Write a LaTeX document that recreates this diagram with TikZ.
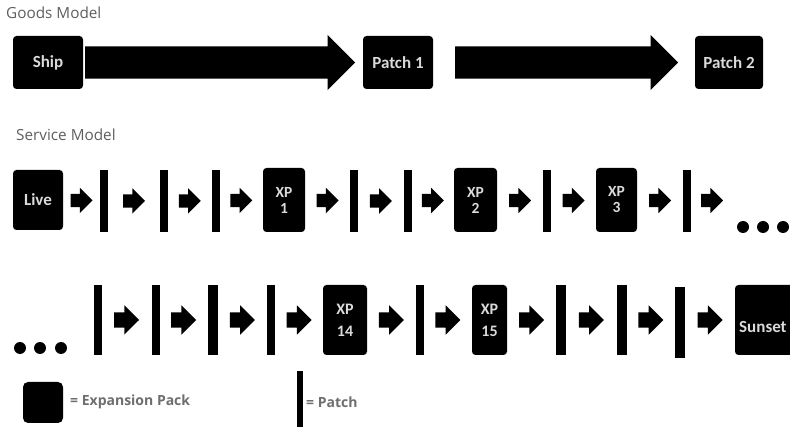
\documentclass[tikz,border=0pt]{standalone}
\usepackage{fontspec}
\setmainfont{Open Sans}
\newfontfamily\boxfont{Carlito}
\usetikzlibrary{shapes.arrows,calc}

\definecolor{boxtext}{HTML}{DADADA}
\definecolor{titlegray}{HTML}{5E5E5E}
\definecolor{legendgray}{HTML}{6E6E6E}

\begin{document}
\begin{tikzpicture}[x=1pt,y=-1pt,
  blk/.style={fill=black, rounded corners=3.5pt, inner sep=0pt, text=boxtext,
    font=\boxfont\bfseries\fontsize{17}{19}\selectfont, align=center},
  xpbox/.style={blk, minimum height=64pt, font=\boxfont\bfseries\fontsize{15.5}{16}\selectfont},
  xpboxtall/.style={blk, minimum height=70pt, font=\boxfont\bfseries\fontsize{16}{22}\selectfont},
  bar/.style={fill=black, inner sep=0pt, minimum width=8pt},
  bigarrow/.style={single arrow, fill=black, inner xsep=0pt, inner ysep=16pt,
    single arrow head extend=11.5pt, outer sep=0pt, anchor=tail},
  smallarrow/.style={single arrow, fill=black, inner xsep=0pt, inner ysep=6.5pt,
    single arrow head extend=6pt, minimum height=22pt, outer sep=0pt,
    anchor=tail, xshift=-11pt},
  midarrow/.style={single arrow, fill=black, inner xsep=0pt, inner ysep=7.5pt,
    single arrow head extend=7pt, minimum height=25pt, outer sep=0pt,
    anchor=tail, xshift=-12.5pt},
  dot/.style={circle, fill=black, inner sep=0pt, minimum size=12pt},
  title/.style={anchor=west, inner sep=0pt, text=titlegray, font=\fontsize{15.3}{17}\selectfont},
  legend/.style={anchor=west, inner sep=0pt, text=legendgray, font=\bfseries\fontsize{14}{16}\selectfont}
]
\useasboundingbox (0,0) rectangle (790,427);
\clip (0,0) rectangle (790,427);

% ---------- Goods model ----------
\node[title] (goods) at (6,13) {Goods Model};
\node[blk, minimum width=70pt, minimum height=53pt] (ship) at (48,62.5) {Ship};
\node[blk, minimum width=70pt, minimum height=53pt] (patch1) at (398,62.5) {Patch 1};
\node[blk, minimum width=68pt, minimum height=53pt] (patch2) at (729,62.5) {Patch 2};
\node[bigarrow, minimum height=270pt, xshift=2pt] (g1) at (ship.east) {};
\node[bigarrow, minimum height=223pt, xshift=22pt] (g2) at (patch1.east) {};

% ---------- Service model, first row ----------
\node[title] (service) at (16,135) {Service Model};
\node[blk, minimum width=50pt, minimum height=60pt] (live) at (38,200) {Live};
\node[bar, minimum height=62pt] (p1) at (104,201) {};
\node[bar, minimum height=62pt] (p2) at (164,201) {};
\node[bar, minimum height=62pt] (p3) at (215.5,201) {};
\node[xpbox, minimum width=42pt] (xp1) at (284,200) {XP\\1};
\node[bar, minimum height=62pt] (p4) at (354,201) {};
\node[bar, minimum height=62pt] (p5) at (407.5,201) {};
\node[xpbox, minimum width=43pt] (xp2) at (475.5,200) {XP\\2};
\node[bar, minimum height=62pt] (p6) at (547,201) {};
\node[xpbox, minimum width=41pt] (xp3) at (616.5,200) {XP\\3};
\node[bar, minimum height=62pt] (p7) at (687,201) {};
\coordinate (more1) at (733,200);
\node[dot] (d1) at (743,227) {};
\node[dot] (d2) at (763,227) {};
\node[dot] (d3) at (783,227) {};

\foreach \a/\b in {live/p1, p1/p2, p2/p3, p3/xp1, xp1/p4, p4/p5, p5/xp2, xp2/p6, p6/xp3, xp3/p7}
  \node[smallarrow] at ($(\a.east)!0.5!(\b.west)$) {};
\node[smallarrow] at ($(p7.east)!0.5!(more1)$) {};

% ---------- Service model, second row ----------
\node[dot] (d4) at (20,348) {};
\node[dot] (d5) at (40,348) {};
\node[dot] (d6) at (61,348) {};
\node[bar, minimum height=70pt] (q1) at (97.5,320) {};
\node[bar, minimum height=70pt] (q2) at (155.5,320) {};
\node[bar, minimum height=70pt, minimum width=10pt] (q3) at (212.5,320) {};
\node[bar, minimum height=70pt] (q4) at (271,320) {};
\node[xpboxtall, minimum width=44pt] (xp14) at (345,320) {XP\\14};
\node[bar, minimum height=70pt] (q5) at (419.5,320) {};
\node[xpboxtall, minimum width=35pt] (xp15) at (489.5,320) {XP\\15};
\node[bar, minimum height=70pt, minimum width=10pt] (q6) at (561,320) {};
\node[bar, minimum height=70pt, minimum width=10pt] (q7) at (621.5,320) {};
\node[bar, minimum height=71pt, minimum width=10pt] (q8) at (680,322.5) {};
\node[blk, minimum width=65pt, minimum height=70pt] (sunset) at (767.5,320) {};
\node[anchor=west, inner sep=0pt, text=boxtext,
  font=\boxfont\bfseries\fontsize{17}{19}\selectfont] (sunsettext) at (739,327) {Sunset};

\foreach \a/\b in {q1/q2, q2/q3, q3/q4, q4/xp14, xp14/q5, q5/xp15, xp15/q6, q6/q7, q7/q8, q8/sunset}
  \node[midarrow] at ($(\a.east |- 0,320)!0.5!(\b.west |- 0,320)$) {};

% ---------- Legend ----------
\node[blk, minimum width=40pt, minimum height=41pt, rounded corners=5pt] (legbox) at (43,402.5) {};
\node[legend] (legxp) at (70,402) {= Expansion Pack};
\node[bar, minimum width=6pt, minimum height=56pt] (legbar) at (300,399.5) {};
\node[legend] (legpatch) at (306,402) {= Patch};
\end{tikzpicture}
\end{document}
